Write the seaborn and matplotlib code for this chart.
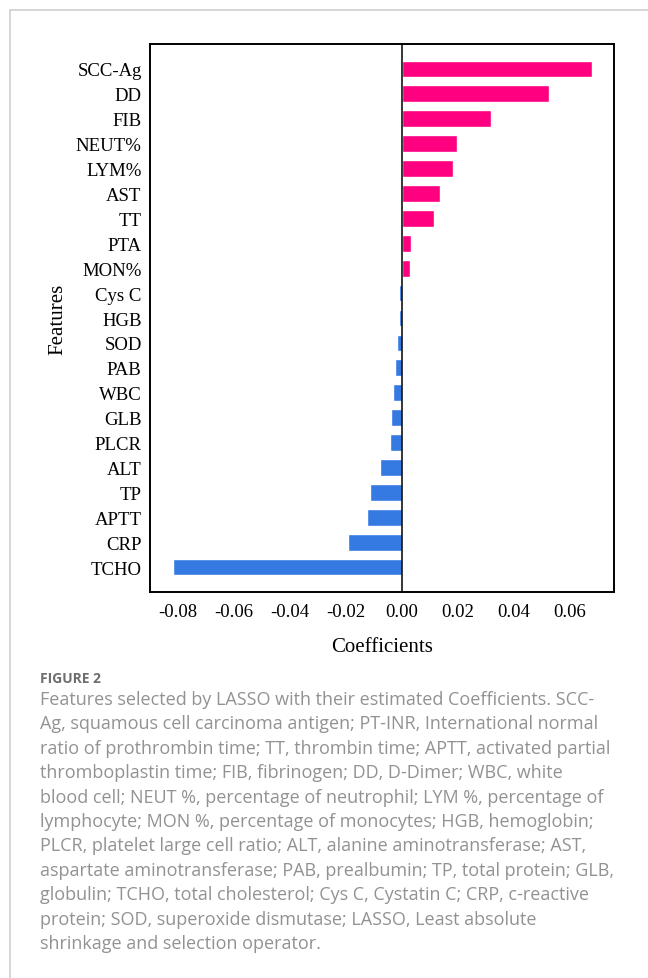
import matplotlib
matplotlib.use("Agg")
import matplotlib.pyplot as plt
import seaborn as sns
import pandas as pd
import numpy as np
from matplotlib.lines import Line2D

features = ["SCC-Ag", "DD", "FIB", "NEUT%", "LYM%", "AST", "TT", "PTA", "MON%",
            "Cys C", "HGB", "SOD", "PAB", "WBC", "GLB", "PLCR", "ALT", "TP",
            "APTT", "CRP", "TCHO"]
coefficients = [0.0683, 0.0529, 0.0319, 0.0198, 0.0185, 0.0137, 0.0116, 0.0032, 0.0030,
                -0.0008, -0.0008, -0.0016, -0.0023, -0.0031, -0.0038, -0.0042, -0.0078,
                -0.0115, -0.0124, -0.0193, -0.0819]
x_ticks = [-0.08, -0.06, -0.04, -0.02, 0.00, 0.02, 0.04, 0.06]
x_tick_labels = ["-0.08", "-0.06", "-0.04", "-0.02", "0.00", "0.02", "0.04", "0.06"]

caption_title = "FIGURE 2"
caption_lines = [
    "Features selected by LASSO with their estimated Coefficients. SCC-",
    "Ag, squamous cell carcinoma antigen; PT-INR, International normal",
    "ratio of prothrombin time; TT, thrombin time; APTT, activated partial",
    "thromboplastin time; FIB, fibrinogen; DD, D-Dimer; WBC, white",
    "blood cell; NEUT %, percentage of neutrophil; LYM %, percentage of",
    "lymphocyte; MON %, percentage of monocytes; HGB, hemoglobin;",
    "PLCR, platelet large cell ratio; ALT, alanine aminotransferase; AST,",
    "aspartate aminotransferase; PAB, prealbumin; TP, total protein; GLB,",
    "globulin; TCHO, total cholesterol; Cys C, Cystatin C; CRP, c-reactive",
    "protein; SOD, superoxide dismutase; LASSO, Least absolute",
    "shrinkage and selection operator.",
]

df = pd.DataFrame({"Feature": features, "Coef": coefficients})
df["Sign"] = np.where(df["Coef"] >= 0, "pos", "neg")

sns.set_theme(style="white")
plt.rcParams["font.family"] = ["Liberation Serif", "DejaVu Serif"]

W, H = 648, 979
fig = plt.figure(figsize=(W / 100, H / 100), dpi=100)

# card border (top and left)
fig.add_artist(Line2D([10 / W, 10 / W], [0, 1 - 11 / H], color="#cfcfcf", lw=1.2, transform=fig.transFigure))
fig.add_artist(Line2D([10 / W, 1], [1 - 11 / H, 1 - 11 / H], color="#cfcfcf", lw=1.2, transform=fig.transFigure))

left, right, top, bottom = 150, 614, 45, 593
ax = fig.add_axes([left / W, 1 - bottom / H, (right - left) / W, (bottom - top) / H])

sns.barplot(data=df, y="Feature", x="Coef", hue="Sign", orient="h",
            palette={"pos": "#FF0080", "neg": "#347AE2"}, dodge=False,
            width=0.67, legend=False, ax=ax, saturation=1)

ax.axvline(0, color="black", lw=1.1)
ax.set_xlim(-0.0901, 0.076)
ax.set_ylim(21, -1)
ax.set_xticks(x_ticks)
ax.set_xticklabels(x_tick_labels)
ax.tick_params(axis="both", direction="in", length=7, width=1.2, color="black",
               labelsize=13.5, labelcolor="black")
ax.tick_params(axis="x", pad=8)
ax.tick_params(axis="y", pad=6)
for s in ax.spines.values():
    s.set_visible(True)
    s.set_color("black")
    s.set_linewidth(1.4)
ax.set_xlabel("Coefficients", fontsize=15, labelpad=12, color="black")
ax.set_ylabel("Features", fontsize=15, labelpad=6, color="black")

cap_font = ["Open Sans", "DejaVu Sans"]
fig.text(40 / W, 1 - 683 / H, caption_title, fontsize=10, fontweight="bold",
         color="#6e6e6e", family=cap_font, va="baseline", ha="left")
for i, line in enumerate(caption_lines):
    fig.text(40 / W, 1 - (705 + 24.4 * i) / H, line, fontsize=13.0, color="#929292",
             family=cap_font, va="baseline", ha="left")

fig.savefig("out.png", dpi=100)
